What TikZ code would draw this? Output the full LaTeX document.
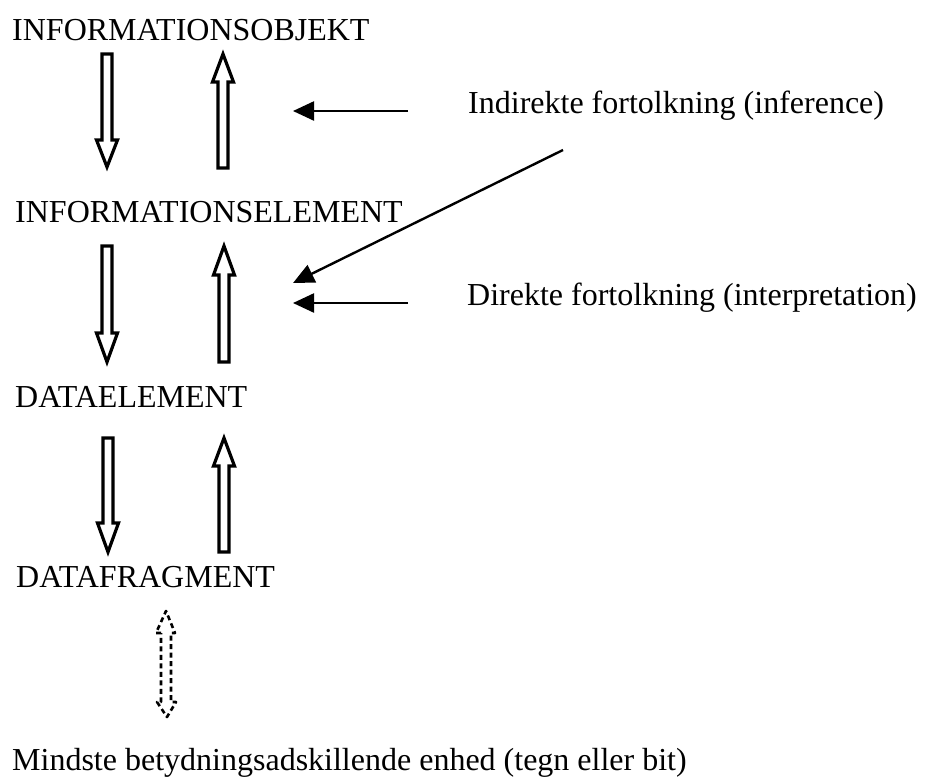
\documentclass[tikz,border=0pt]{standalone}
\usepackage{fontspec}
\setmainfont{Liberation Serif}
\usetikzlibrary{arrows.meta}
\tikzset{
  lbl/.style={anchor=base west, inner sep=0pt, font=\fontsize{32}{36}\selectfont},
  blk/.style={draw=black, line width=3.2pt, line join=miter, fill=white},
  dblk/.style={draw=black, line width=2.6pt, dash pattern=on 5pt off 3.5pt, line join=round},
  ptr/.style={draw=black, line width=2.4pt, -{Triangle[length=21pt,width=19pt]}}
}
% #1 center x, #2 tail y, #3 head base y, #4 tip y
\newcommand\myblockarrow[4]{%
  \draw[blk] (#1-5,#2) -- (#1+5,#2) -- (#1+5,#3) -- (#1+10.5,#3) -- (#1,#4)
    -- (#1-10.5,#3) -- (#1-5,#3) -- cycle;}
\begin{document}
\begin{tikzpicture}[x=1pt,y=-1pt]
\useasboundingbox (0,0) rectangle (926,780);
\node[lbl] (io) at (12,40) {INFORMATIONSOBJEKT};
\node[lbl] (ie) at (15,222) {INFORMATIONSELEMENT};
\node[lbl] (de) at (15,407) {DATAELEMENT};
\node[lbl] (df) at (16,587) {DATAFRAGMENT};
\node[lbl] (ms) at (12,770) {Mindste betydningsadskillende enhed (tegn eller bit)};
\node[lbl] (ind) at (468,113) {Indirekte fortolkning (inference)};
\node[lbl] (dir) at (467,305) {Direkte fortolkning (interpretation)};
% block arrows
\myblockarrow{107}{54}{140}{167}
\myblockarrow{223}{168}{82}{54}
\myblockarrow{107}{246}{333}{362}
\myblockarrow{224}{362}{275}{246}
\myblockarrow{108}{438}{523}{552}
\myblockarrow{224}{552}{466}{438}
% dashed double arrow
\draw[dblk] (161,633) -- (156,633) -- (166,611) -- (175,633) -- (171,633)
  -- (171,702) -- (176,702) -- (167,717) -- (157,702) -- (161,702) -- cycle;
% pointer arrows
\coordinate (a1) at (408,111); \coordinate (b1) at (293,111);
\coordinate (a2) at (563,150); \coordinate (b2) at (293,283);
\coordinate (a3) at (408,303); \coordinate (b3) at (293,303);
\draw[ptr] (a1) -- (b1);
\draw[ptr] (a2) -- (b2);
\draw[ptr] (a3) -- (b3);
\end{tikzpicture}
\end{document}
